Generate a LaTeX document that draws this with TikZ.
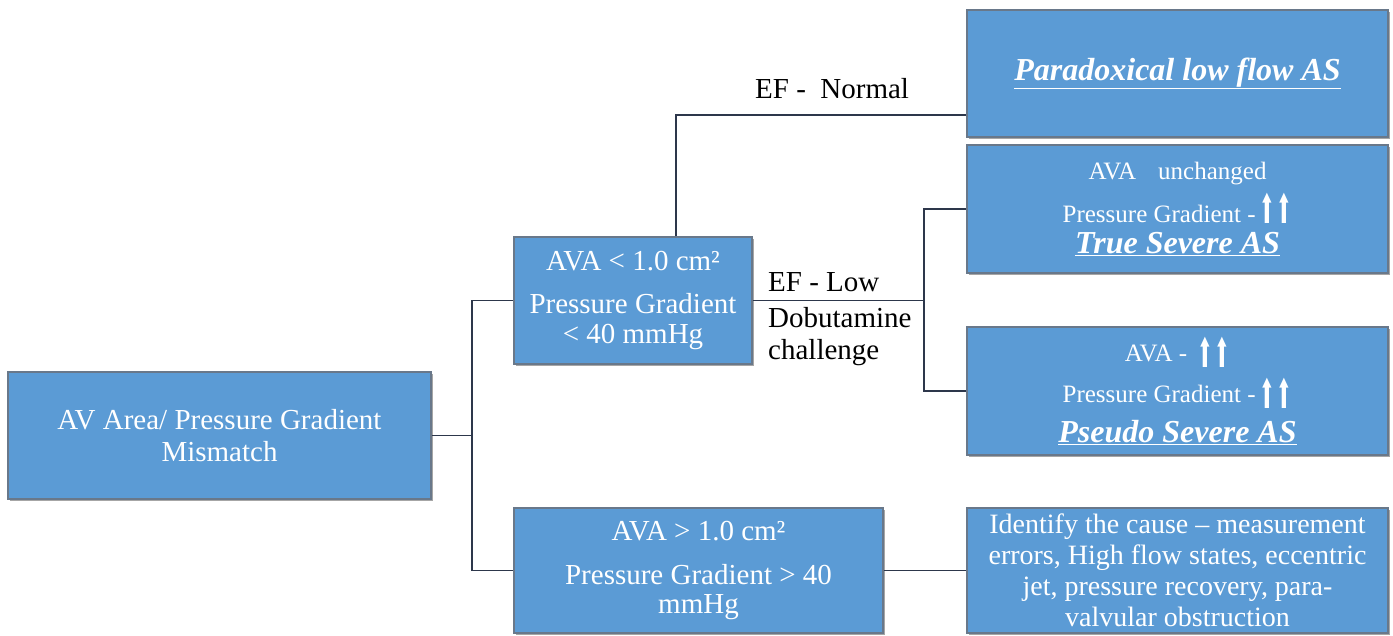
\documentclass[tikz,border=0pt]{standalone}
\usepackage{fontspec}
\usepackage{graphicx}
\setmainfont{Liberation Serif}
\newfontfamily\arrowfont{DejaVu Sans}
\usetikzlibrary{shadows}
\definecolor{boxblue}{RGB}{91,155,213}
\definecolor{boxedge}{RGB}{105,120,138}
\definecolor{linecol}{RGB}{45,55,75}
\newcommand{\oneup}{\scalebox{0.72}[1.55]{⬆}}
\newcommand{\upup}[1][-6pt]{{\arrowfont\fontsize{26}{30}\selectfont\,\raisebox{#1}{\oneup\hspace{1pt}\oneup}}}
\newcommand{\ttl}[1]{{\fontsize{32}{30}\selectfont\bfseries\itshape\underline{#1}}}
\begin{document}
\begin{tikzpicture}[x=1pt,y=-1pt,
  box/.style={draw=boxedge, line width=1.2pt, fill=boxblue, text=white, align=center, inner sep=0pt,
    drop shadow={shadow xshift=1.5pt, shadow yshift=-1.5pt, opacity=0.35, fill=black}},
  conn/.style={draw=linecol, line width=1.3pt},
  lbl/.style={font=\fontsize{29}{33}\selectfont, inner sep=0pt}]
\useasboundingbox (0,0) rectangle (1393,635);

\node[box, minimum width=423pt, minimum height=127pt, font=\fontsize{29}{32}\selectfont] (root) at (219.5,435.5) {AV Area/ Pressure Gradient\\Mismatch};

\node[box, minimum width=238pt, minimum height=127pt, font=\fontsize{29}{30}\selectfont] (mu) at (633,300.5) {AVA < 1.0 cm²\\[13pt]Pressure Gradient\\< 40 mmHg};

\node[box, minimum width=369pt, minimum height=125pt, font=\fontsize{29}{29}\selectfont] (ml) at (698.5,570.5) {AVA > 1.0 cm²\\[15pt]Pressure Gradient > 40\\mmHg};

\node[box, minimum width=421pt, minimum height=127pt] (para) at (1177.5,73.5) {\ttl{Paradoxical low flow AS}};

\node[box, minimum width=421pt, minimum height=128pt, font=\fontsize{25}{30}\selectfont] (true) at (1177.5,209) {AVA\hspace{22pt}unchanged\\[8pt]Pressure Gradient -\upup[-1pt]\\[1pt]\ttl{True Severe AS}};

\node[box, minimum width=421pt, minimum height=128pt, font=\fontsize{25}{30}\selectfont] (pseudo) at (1177.5,391) {AVA - \upup\\[10pt]Pressure Gradient -\upup\\[10pt]\ttl{Pseudo Severe AS}};

\node[box, minimum width=421pt, minimum height=125pt, font=\fontsize{28}{31}\selectfont] (lr) at (1177.5,570.5) {Identify the cause – measurement\\errors, High flow states, eccentric\\jet, pressure recovery, para-\\valvular obstruction};

\node[lbl, anchor=base west] (efn) at (755,98) {EF -\ \ Normal};
\node[lbl, anchor=base west] (efl) at (768,291) {EF - Low};
\node[lbl, anchor=base west] (dob) at (768,327) {Dobutamine};
\node[lbl, anchor=base west] (chal) at (768,359) {challenge};

\coordinate (j1) at (472,435.5);
\coordinate (j2) at (924,300.5);
\coordinate (t1) at (676,115);
\draw[conn] (root.east) -- (j1);
\draw[conn] (j1) |- (mu.west);
\draw[conn] (j1) |- (ml.west);
\draw[conn] (mu.east) -- (j2);
\draw[conn] (j2) |- (true.west);
\draw[conn] (j2) |- (pseudo.west);
\draw[conn] (mu.north -| t1) |- (para.west |- t1);
\draw[conn] (ml.east) -- (lr.west);
\end{tikzpicture}
\end{document}
